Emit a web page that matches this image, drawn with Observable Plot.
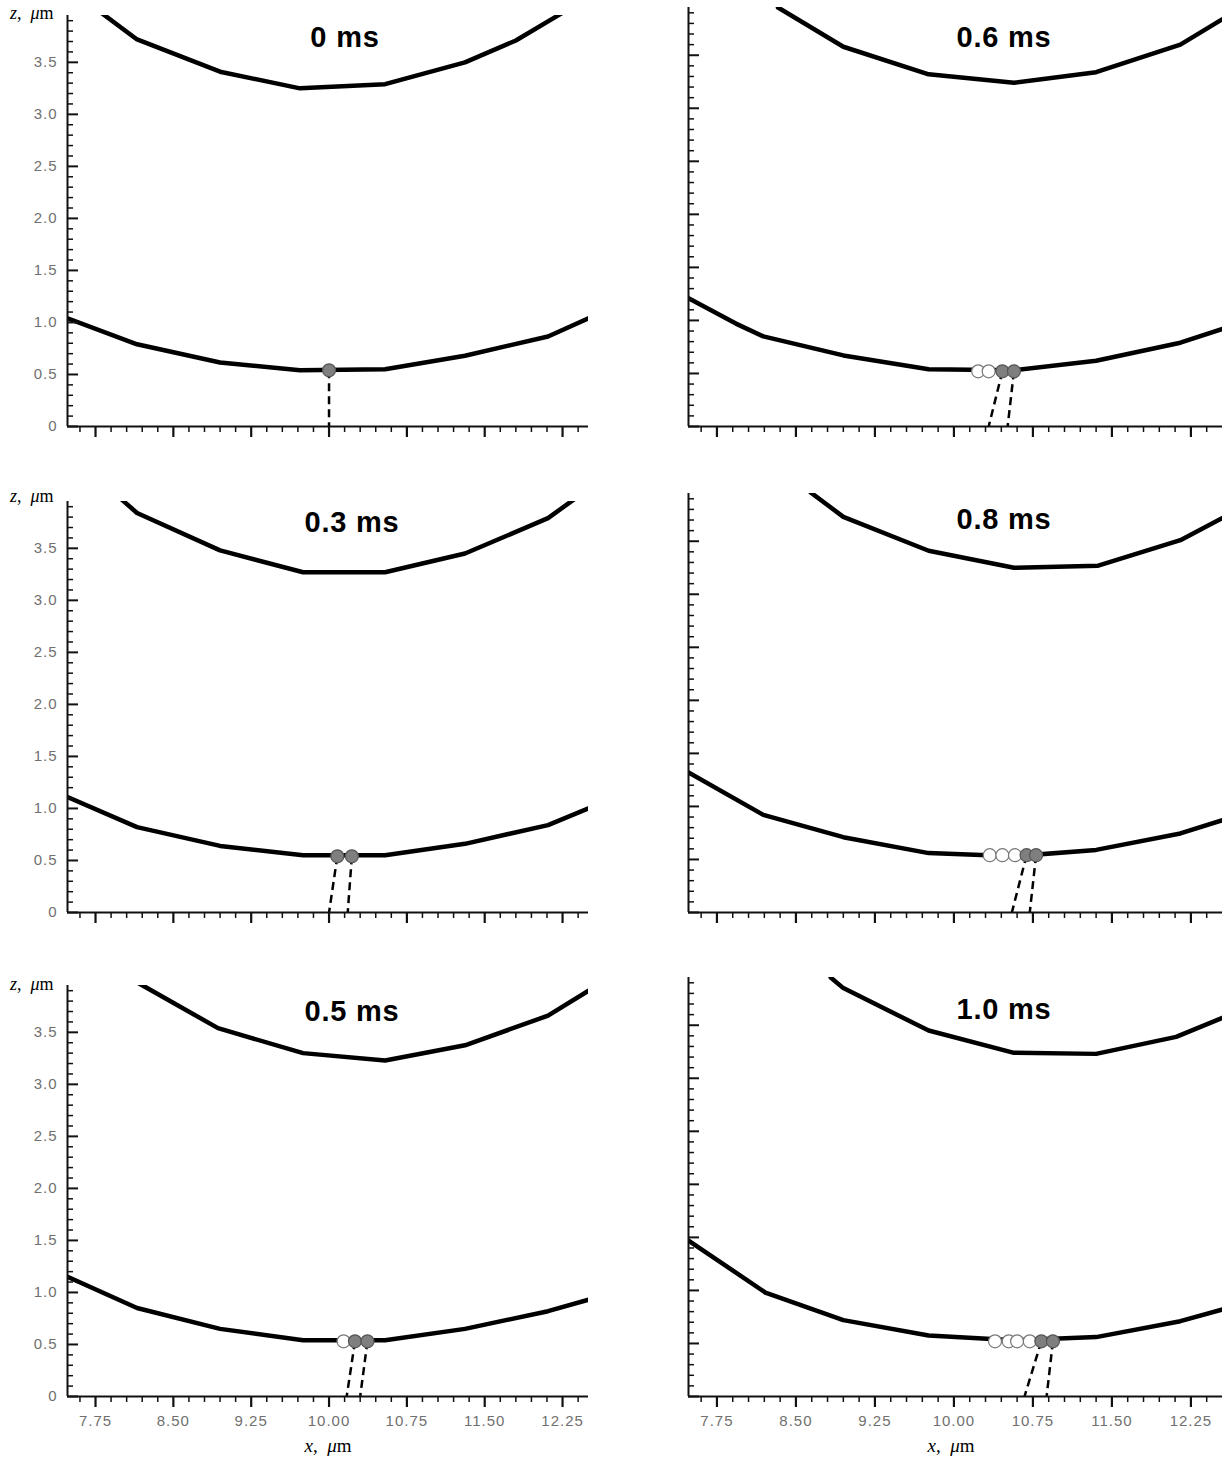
<!DOCTYPE html>
<html><head><meta charset="utf-8">
<script src="https://cdn.jsdelivr.net/npm/d3@7"></script>
<script src="https://cdn.jsdelivr.net/npm/@observablehq/plot@0.6"></script>
<style>
body{margin:0;background:#fff;overflow:hidden}
#wrap{position:relative;width:1226px;height:1462px;background:#fff}
.panel{position:absolute}
.panel text{letter-spacing:1px}
.title{position:absolute;font:bold 29px "Liberation Sans",Arial,sans-serif;letter-spacing:0.8px;line-height:30px;transform:translateX(-50%);white-space:nowrap;color:#000}
.zlab{position:absolute;font:18px "Liberation Serif","DejaVu Serif",serif;white-space:nowrap;color:#000}
.xlab{position:absolute;font:19px "Liberation Serif","DejaVu Serif",serif;transform:translateX(-50%);white-space:nowrap;color:#000}
</style></head>
<body><div id="wrap"></div>
<script>
// ---------- data ----------
const titles = ["0 ms", "0.3 ms", "0.5 ms", "0.6 ms", "0.8 ms", "1.0 ms"];

const upper0  = [[7.80,3.98],[8.15,3.72],[8.95,3.41],[9.72,3.25],[10.54,3.29],[11.31,3.50],[11.80,3.71],[12.24,3.97]];
const lower0  = [[7.48,1.04],[8.15,0.79],[8.95,0.615],[9.72,0.54],[10.54,0.55],[11.31,0.68],[12.11,0.865],[12.50,1.04]];
const open0 = [], filled0 = [10.0], base0 = [10.0];

const upper03 = [[8.00,3.97],[8.15,3.84],[8.95,3.48],[9.75,3.27],[10.54,3.27],[11.31,3.45],[12.11,3.79],[12.36,3.97]];
const lower03 = [[7.48,1.11],[8.15,0.82],[8.95,0.64],[9.75,0.55],[10.54,0.55],[11.31,0.66],[12.11,0.84],[12.50,1.00]];
const open03 = [], filled03 = [10.08, 10.22], base03 = [10.00, 10.18];

const upper05 = [[8.17,3.97],[8.93,3.54],[9.75,3.30],[10.54,3.23],[11.31,3.375],[12.11,3.66],[12.50,3.90]];
const lower05 = [[7.48,1.15],[8.15,0.85],[8.95,0.65],[9.75,0.54],[10.54,0.54],[11.31,0.65],[12.11,0.82],[12.50,0.93]];
const open05 = [10.14], filled05 = [10.25, 10.37], base05 = [10.17, 10.30];

const upper06 = [[8.33,3.95],[8.95,3.58],[9.76,3.32],[10.57,3.24],[11.35,3.34],[12.15,3.60],[12.55,3.84]];
const lower06 = [[7.48,1.21],[7.93,0.97],[8.19,0.85],[8.95,0.67],[9.76,0.54],[10.57,0.53],[11.35,0.62],[12.15,0.79],[12.55,0.92]];
const open06 = [10.23, 10.33], filled06 = [10.46, 10.57], base06 = [10.33, 10.51];

const upper08 = [[8.64,3.96],[8.95,3.73],[9.76,3.41],[10.57,3.25],[11.37,3.27],[12.15,3.51],[12.55,3.72]];
const lower08 = [[7.48,1.32],[8.19,0.92],[8.95,0.71],[9.76,0.56],[10.57,0.53],[11.35,0.59],[12.15,0.745],[12.55,0.87]];
const open08 = [10.34, 10.46, 10.58], filled08 = [10.69, 10.78], base08 = [10.55, 10.72];

const upper10 = [[8.83,3.95],[8.95,3.85],[9.76,3.45],[10.57,3.24],[11.35,3.23],[12.11,3.39],[12.55,3.57]];
const lower10 = [[7.48,1.47],[8.21,0.98],[8.95,0.72],[9.76,0.575],[10.57,0.53],[11.35,0.56],[12.15,0.71],[12.55,0.82]];
const open10 = [10.39, 10.52, 10.60, 10.72], filled10 = [10.83, 10.94], base10 = [10.67, 10.88];

const circleZ = [0.54, 0.54, 0.53, 0.52, 0.54, 0.52];

const xMajorTicks = [7.75, 8.50, 9.25, 10.00, 10.75, 11.50, 12.25];
const xMinorStep = 0.15;
const yMajorTicks = [0, 0.5, 1.0, 1.5, 2.0, 2.5, 3.0, 3.5];
const yMinorStep = 0.1;

// ---------- layout ----------
const panels = [
  {title: titles[0], upper: upper0,  lower: lower0,  open: open0,  filled: filled0,  base: base0,  cz: circleZ[0], col: 0, frame: [67, 588, 15, 426],   xDom: [7.48, 12.50]},
  {title: titles[1], upper: upper03, lower: lower03, open: open03, filled: filled03, base: base03, cz: circleZ[1], col: 0, frame: [67, 588, 501, 912],  xDom: [7.48, 12.50]},
  {title: titles[2], upper: upper05, lower: lower05, open: open05, filled: filled05, base: base05, cz: circleZ[2], col: 0, frame: [67, 588, 985, 1396], xDom: [7.48, 12.50], bottom: true},
  {title: titles[3], upper: upper06, lower: lower06, open: open06, filled: filled06, base: base06, cz: circleZ[3], col: 1, frame: [688, 1222, 7, 426],  xDom: [7.48, 12.55]},
  {title: titles[4], upper: upper08, lower: lower08, open: open08, filled: filled08, base: base08, cz: circleZ[4], col: 1, frame: [688, 1222, 493, 912], xDom: [7.48, 12.55]},
  {title: titles[5], upper: upper10, lower: lower10, open: open10, filled: filled10, base: base10, cz: circleZ[5], col: 1, frame: [688, 1222, 977, 1396], xDom: [7.48, 12.55], bottom: true}
];
const titlePos = [[345, 22], [352, 507], [352, 996], [1004, 22], [1004, 504], [1004, 994]];
const zLabelTop = [3, 486, 974];
const yDom = [0, 3.95];

const xMinorTicks = d3.range(7.6, 12.45, xMinorStep).map(v => +v.toFixed(2)).filter(v => !xMajorTicks.some(m => Math.abs(m - v) < 1e-6));
const yMinorTicks = d3.range(0.1, 3.95, yMinorStep).map(v => +v.toFixed(2)).filter(v => !yMajorTicks.some(m => Math.abs(m - v) < 1e-6));

const wrap = document.getElementById("wrap");
const ml = 72, mr = 4, mt = 8, mb = 52;
const ink = "#111";

panels.forEach((p, i) => {
  const [L, R, T, B] = p.frame;
  const plotW = R - L;
  const W = plotW + ml + mr, H = B - T + mt + mb;
  const xy = {x: d => d[0], y: d => d[1]};
  const marks = [
    Plot.line(p.upper, {...xy, stroke: "#000", strokeWidth: 4.5, strokeLinejoin: "round", clip: true}),
    Plot.line(p.lower, {...xy, stroke: "#000", strokeWidth: 4.5, strokeLinejoin: "round", clip: true}),
    Plot.link(p.filled.map((x, j) => ({x1: x, x2: p.base[j]})), {x1: "x1", x2: "x2", y1: () => p.cz, y2: () => 0, stroke: "#000", strokeWidth: 2.5, strokeDasharray: "8,5"}),
    Plot.dot(p.open, {x: d => d, y: () => p.cz, r: 6.5, fill: "#fff", stroke: "#777", strokeWidth: 1.2}),
    Plot.dot(p.filled, {x: d => d, y: () => p.cz, r: 6.5, fill: "#7f7f7f", stroke: "#555", strokeWidth: 1.2}),
    Plot.tickY(yMinorTicks, {y: d => d, insetRight: plotW - 6, stroke: ink, strokeWidth: 1.5}),
    Plot.tickY(yMajorTicks, {y: d => d, insetRight: plotW - 11, stroke: ink, strokeWidth: 2}),
    Plot.ruleX([p.xDom[0]], {y1: yDom[0], y2: yDom[1], stroke: ink, strokeWidth: 2}),
    Plot.ruleY([0], {x1: p.xDom[0], x2: p.xDom[1], stroke: ink, strokeWidth: 2}),
    Plot.axisX(xMinorTicks, {tickSize: 6, fill: "none", stroke: ink, strokeWidth: 1.5, label: null}),
    Plot.axisX(xMajorTicks, {tickSize: 11, fill: "none", stroke: ink, strokeWidth: 2.2, label: null})
  ];
  if (p.col === 0) marks.push(Plot.axisY(yMajorTicks, {tickSize: 0, tickPadding: 10, stroke: "none", fill: "#707070", fontSize: 15, label: null, tickFormat: d => d === 0 ? "0" : d.toFixed(1)}));
  if (p.bottom) marks.push(Plot.axisX(xMajorTicks, {tickSize: 11, tickPadding: 8, stroke: "none", fill: "#707070", fontSize: 15, label: null, tickFormat: d => d.toFixed(2)}));
  const chart = Plot.plot({
    width: W, height: H, marginLeft: ml, marginRight: mr, marginTop: mt, marginBottom: mb,
    x: {domain: p.xDom, axis: null},
    y: {domain: yDom, axis: null},
    style: {background: "transparent", overflow: "visible", fontFamily: "'Liberation Sans', Arial, sans-serif"},
    marks
  });
  const div = document.createElement("div");
  div.className = "panel";
  div.style.left = (L - ml) + "px";
  div.style.top = (T - mt) + "px";
  div.appendChild(chart);
  wrap.appendChild(div);

  const t = document.createElement("div");
  t.className = "title";
  t.textContent = p.title;
  t.style.left = titlePos[i][0] + "px";
  t.style.top = titlePos[i][1] + "px";
  wrap.appendChild(t);
});

zLabelTop.forEach(top => {
  const z = document.createElement("div");
  z.className = "zlab";
  z.innerHTML = "<i>z</i>,&nbsp; <i>μ</i>m";
  z.style.left = "10px";
  z.style.top = top + "px";
  wrap.appendChild(z);
});
[328, 951].forEach(cx => {
  const x = document.createElement("div");
  x.className = "xlab";
  x.innerHTML = "<i>x</i>,&nbsp; <i>μ</i>m";
  x.style.left = cx + "px";
  x.style.top = "1435px";
  wrap.appendChild(x);
});
</script>
</body></html>
